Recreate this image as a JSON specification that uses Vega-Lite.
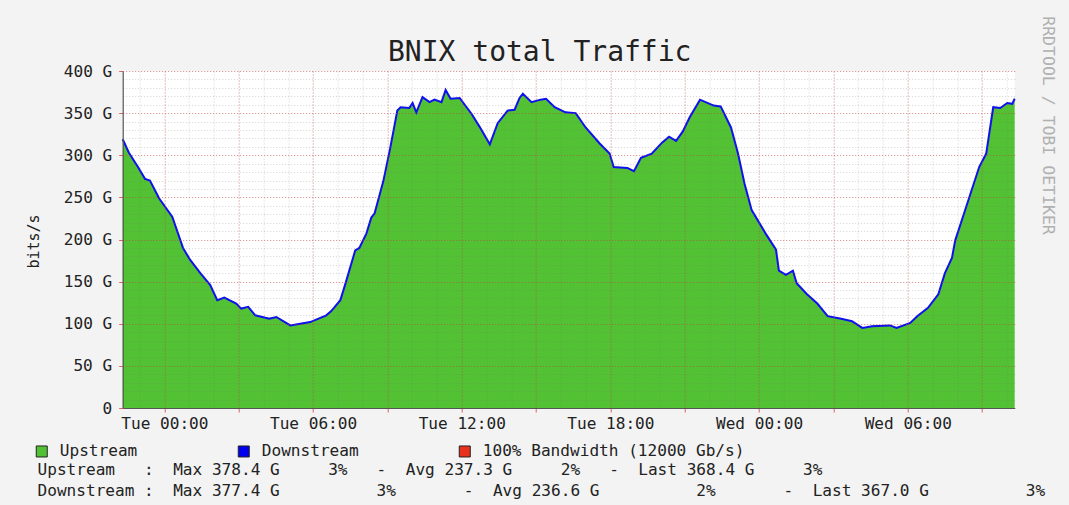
{
  "$schema": "https://vega.github.io/schema/vega-lite/v6.json",
  "width": 892,
  "height": 337,
  "autosize": {"type": "none"},
  "padding": {"left": 122.7, "top": 71, "right": 54.3, "bottom": 97},
  "background": "#f3f3f3",
  "config": {"view": {"fill": "white", "stroke": null}},
  "title": {"text": "BNIX total Traffic", "font": "DejaVu Sans Mono", "fontSize": 28, "fontWeight": "normal", "color": "#222222", "anchor": "middle", "frame": "group", "dx": -29, "dy": 84, "offset": 11, "baseline": "alphabetic"},
  "data": {"values": [
    {"t": "2024-01-01T22:19:00", "Upstream": 320, "Downstream": 319},
    {"t": "2024-01-01T22:34:00", "Upstream": 304, "Downstream": 303},
    {"t": "2024-01-01T22:56:00", "Upstream": 286, "Downstream": 286},
    {"t": "2024-01-01T23:13:00", "Upstream": 273, "Downstream": 272},
    {"t": "2024-01-01T23:25:00", "Upstream": 270, "Downstream": 270},
    {"t": "2024-01-01T23:47:00", "Upstream": 250, "Downstream": 249},
    {"t": "2024-01-02T00:19:00", "Upstream": 227, "Downstream": 227},
    {"t": "2024-01-02T00:45:00", "Upstream": 191, "Downstream": 190},
    {"t": "2024-01-02T01:02:00", "Upstream": 176, "Downstream": 176},
    {"t": "2024-01-02T01:27:00", "Upstream": 161, "Downstream": 160},
    {"t": "2024-01-02T01:51:00", "Upstream": 146, "Downstream": 146},
    {"t": "2024-01-02T02:08:00", "Upstream": 128, "Downstream": 128},
    {"t": "2024-01-02T02:25:00", "Upstream": 132, "Downstream": 131},
    {"t": "2024-01-02T02:54:00", "Upstream": 124, "Downstream": 124},
    {"t": "2024-01-02T03:06:00", "Upstream": 119, "Downstream": 118},
    {"t": "2024-01-02T03:23:00", "Upstream": 120, "Downstream": 120},
    {"t": "2024-01-02T03:40:00", "Upstream": 110, "Downstream": 110},
    {"t": "2024-01-02T04:14:00", "Upstream": 107, "Downstream": 106},
    {"t": "2024-01-02T04:31:00", "Upstream": 108, "Downstream": 108},
    {"t": "2024-01-02T05:05:00", "Upstream": 98, "Downstream": 98},
    {"t": "2024-01-02T05:29:00", "Upstream": 101, "Downstream": 100},
    {"t": "2024-01-02T05:53:00", "Upstream": 102, "Downstream": 102},
    {"t": "2024-01-02T06:32:00", "Upstream": 110, "Downstream": 110},
    {"t": "2024-01-02T06:44:00", "Upstream": 116, "Downstream": 115},
    {"t": "2024-01-02T07:06:00", "Upstream": 128, "Downstream": 128},
    {"t": "2024-01-02T07:18:00", "Upstream": 148, "Downstream": 147},
    {"t": "2024-01-02T07:42:00", "Upstream": 187, "Downstream": 187},
    {"t": "2024-01-02T07:52:00", "Upstream": 191, "Downstream": 190},
    {"t": "2024-01-02T08:09:00", "Upstream": 207, "Downstream": 207},
    {"t": "2024-01-02T08:21:00", "Upstream": 227, "Downstream": 226},
    {"t": "2024-01-02T08:29:00", "Upstream": 231, "Downstream": 231},
    {"t": "2024-01-02T08:50:00", "Upstream": 270, "Downstream": 269},
    {"t": "2024-01-02T09:07:00", "Upstream": 310, "Downstream": 309},
    {"t": "2024-01-02T09:24:00", "Upstream": 354, "Downstream": 353},
    {"t": "2024-01-02T09:32:00", "Upstream": 357, "Downstream": 357},
    {"t": "2024-01-02T09:53:00", "Upstream": 357, "Downstream": 356},
    {"t": "2024-01-02T10:01:00", "Upstream": 362, "Downstream": 362},
    {"t": "2024-01-02T10:10:00", "Upstream": 352, "Downstream": 351},
    {"t": "2024-01-02T10:25:00", "Upstream": 369, "Downstream": 369},
    {"t": "2024-01-02T10:42:00", "Upstream": 364, "Downstream": 363},
    {"t": "2024-01-02T10:54:00", "Upstream": 366, "Downstream": 366},
    {"t": "2024-01-02T11:11:00", "Upstream": 364, "Downstream": 363},
    {"t": "2024-01-02T11:21:00", "Upstream": 378.4, "Downstream": 377.4},
    {"t": "2024-01-02T11:33:00", "Upstream": 368, "Downstream": 367},
    {"t": "2024-01-02T11:55:00", "Upstream": 368, "Downstream": 368},
    {"t": "2024-01-02T12:24:00", "Upstream": 350, "Downstream": 349},
    {"t": "2024-01-02T12:43:00", "Upstream": 334, "Downstream": 334},
    {"t": "2024-01-02T13:08:00", "Upstream": 314, "Downstream": 313},
    {"t": "2024-01-02T13:27:00", "Upstream": 338, "Downstream": 338},
    {"t": "2024-01-02T13:51:00", "Upstream": 354, "Downstream": 353},
    {"t": "2024-01-02T14:08:00", "Upstream": 354, "Downstream": 354},
    {"t": "2024-01-02T14:20:00", "Upstream": 369, "Downstream": 368},
    {"t": "2024-01-02T14:28:00", "Upstream": 373, "Downstream": 373},
    {"t": "2024-01-02T14:49:00", "Upstream": 364, "Downstream": 363},
    {"t": "2024-01-02T15:11:00", "Upstream": 366, "Downstream": 366},
    {"t": "2024-01-02T15:24:00", "Upstream": 368, "Downstream": 367},
    {"t": "2024-01-02T15:45:00", "Upstream": 357, "Downstream": 357},
    {"t": "2024-01-02T16:11:00", "Upstream": 352, "Downstream": 351},
    {"t": "2024-01-02T16:36:00", "Upstream": 350, "Downstream": 350},
    {"t": "2024-01-02T17:00:00", "Upstream": 334, "Downstream": 333},
    {"t": "2024-01-02T17:34:00", "Upstream": 314, "Downstream": 314},
    {"t": "2024-01-02T17:58:00", "Upstream": 303, "Downstream": 302},
    {"t": "2024-01-02T18:08:00", "Upstream": 286, "Downstream": 286},
    {"t": "2024-01-02T18:41:00", "Upstream": 286, "Downstream": 285},
    {"t": "2024-01-02T18:57:00", "Upstream": 281, "Downstream": 281},
    {"t": "2024-01-02T19:14:00", "Upstream": 298, "Downstream": 297},
    {"t": "2024-01-02T19:40:00", "Upstream": 302, "Downstream": 302},
    {"t": "2024-01-02T20:05:00", "Upstream": 316, "Downstream": 315},
    {"t": "2024-01-02T20:22:00", "Upstream": 322, "Downstream": 322},
    {"t": "2024-01-02T20:39:00", "Upstream": 318, "Downstream": 317},
    {"t": "2024-01-02T20:55:00", "Upstream": 328, "Downstream": 328},
    {"t": "2024-01-02T21:12:00", "Upstream": 346, "Downstream": 345},
    {"t": "2024-01-02T21:37:00", "Upstream": 366, "Downstream": 366},
    {"t": "2024-01-02T22:10:00", "Upstream": 360, "Downstream": 359},
    {"t": "2024-01-02T22:27:00", "Upstream": 358, "Downstream": 358},
    {"t": "2024-01-02T22:52:00", "Upstream": 334, "Downstream": 333},
    {"t": "2024-01-02T23:09:00", "Upstream": 302, "Downstream": 302},
    {"t": "2024-01-02T23:25:00", "Upstream": 267, "Downstream": 266},
    {"t": "2024-01-02T23:42:00", "Upstream": 235, "Downstream": 235},
    {"t": "2024-01-03T00:16:00", "Upstream": 208, "Downstream": 207},
    {"t": "2024-01-03T00:41:00", "Upstream": 188, "Downstream": 188},
    {"t": "2024-01-03T00:48:00", "Upstream": 164, "Downstream": 163},
    {"t": "2024-01-03T01:05:00", "Upstream": 158, "Downstream": 158},
    {"t": "2024-01-03T01:22:00", "Upstream": 164, "Downstream": 163},
    {"t": "2024-01-03T01:31:00", "Upstream": 148, "Downstream": 148},
    {"t": "2024-01-03T01:56:00", "Upstream": 136, "Downstream": 135},
    {"t": "2024-01-03T02:21:00", "Upstream": 124, "Downstream": 124},
    {"t": "2024-01-03T02:46:00", "Upstream": 110, "Downstream": 109},
    {"t": "2024-01-03T03:19:00", "Upstream": 106, "Downstream": 106},
    {"t": "2024-01-03T03:45:00", "Upstream": 104, "Downstream": 103},
    {"t": "2024-01-03T04:10:00", "Upstream": 95, "Downstream": 95},
    {"t": "2024-01-03T04:34:00", "Upstream": 98, "Downstream": 97},
    {"t": "2024-01-03T05:17:00", "Upstream": 98, "Downstream": 98},
    {"t": "2024-01-03T05:33:00", "Upstream": 96, "Downstream": 95},
    {"t": "2024-01-03T06:06:00", "Upstream": 101, "Downstream": 101},
    {"t": "2024-01-03T06:23:00", "Upstream": 110, "Downstream": 109},
    {"t": "2024-01-03T06:49:00", "Upstream": 119, "Downstream": 119},
    {"t": "2024-01-03T07:14:00", "Upstream": 136, "Downstream": 135},
    {"t": "2024-01-03T07:30:00", "Upstream": 160, "Downstream": 160},
    {"t": "2024-01-03T07:47:00", "Upstream": 179, "Downstream": 178},
    {"t": "2024-01-03T07:55:00", "Upstream": 199, "Downstream": 199},
    {"t": "2024-01-03T08:21:00", "Upstream": 239, "Downstream": 238},
    {"t": "2024-01-03T08:53:00", "Upstream": 286, "Downstream": 286},
    {"t": "2024-01-03T09:10:00", "Upstream": 303, "Downstream": 302},
    {"t": "2024-01-03T09:27:00", "Upstream": 357, "Downstream": 357},
    {"t": "2024-01-03T09:44:00", "Upstream": 357, "Downstream": 356},
    {"t": "2024-01-03T10:01:00", "Upstream": 362, "Downstream": 362},
    {"t": "2024-01-03T10:13:00", "Upstream": 362, "Downstream": 361},
    {"t": "2024-01-03T10:19:00", "Upstream": 368.4, "Downstream": 367.0}
  ]},
  "transform": [{"fold": ["Upstream", "Downstream"], "as": ["series", "value"]}],
  "resolve": {"axis": {"x": "independent", "y": "independent"}},
  "layer": [
    {
      "transform": [{"filter": "datum.series == 'Upstream'"}],
      "mark": {"type": "area", "interpolate": "linear", "opacity": 1},
      "encoding": {
        "x": {"field": "t", "type": "temporal",
          "scale": {"domain": [{"year": 2024, "month": 1, "date": 1, "hours": 22, "minutes": 19}, {"year": 2024, "month": 1, "date": 3, "hours": 10, "minutes": 19}], "nice": false},
          "axis": {"orient": "top", "values": [
            {"year": 2024, "month": 1, "date": 1, "hours": 23},
            {"year": 2024, "month": 1, "date": 2, "hours": 0}, {"year": 2024, "month": 1, "date": 2, "hours": 1}, {"year": 2024, "month": 1, "date": 2, "hours": 2}, {"year": 2024, "month": 1, "date": 2, "hours": 3}, {"year": 2024, "month": 1, "date": 2, "hours": 4}, {"year": 2024, "month": 1, "date": 2, "hours": 5}, {"year": 2024, "month": 1, "date": 2, "hours": 6}, {"year": 2024, "month": 1, "date": 2, "hours": 7}, {"year": 2024, "month": 1, "date": 2, "hours": 8}, {"year": 2024, "month": 1, "date": 2, "hours": 9}, {"year": 2024, "month": 1, "date": 2, "hours": 10}, {"year": 2024, "month": 1, "date": 2, "hours": 11},
            {"year": 2024, "month": 1, "date": 2, "hours": 12}, {"year": 2024, "month": 1, "date": 2, "hours": 13}, {"year": 2024, "month": 1, "date": 2, "hours": 14}, {"year": 2024, "month": 1, "date": 2, "hours": 15}, {"year": 2024, "month": 1, "date": 2, "hours": 16}, {"year": 2024, "month": 1, "date": 2, "hours": 17}, {"year": 2024, "month": 1, "date": 2, "hours": 18}, {"year": 2024, "month": 1, "date": 2, "hours": 19}, {"year": 2024, "month": 1, "date": 2, "hours": 20}, {"year": 2024, "month": 1, "date": 2, "hours": 21}, {"year": 2024, "month": 1, "date": 2, "hours": 22}, {"year": 2024, "month": 1, "date": 2, "hours": 23},
            {"year": 2024, "month": 1, "date": 3, "hours": 0}, {"year": 2024, "month": 1, "date": 3, "hours": 1}, {"year": 2024, "month": 1, "date": 3, "hours": 2}, {"year": 2024, "month": 1, "date": 3, "hours": 3}, {"year": 2024, "month": 1, "date": 3, "hours": 4}, {"year": 2024, "month": 1, "date": 3, "hours": 5}, {"year": 2024, "month": 1, "date": 3, "hours": 6}, {"year": 2024, "month": 1, "date": 3, "hours": 7}, {"year": 2024, "month": 1, "date": 3, "hours": 8}, {"year": 2024, "month": 1, "date": 3, "hours": 9}, {"year": 2024, "month": 1, "date": 3, "hours": 10}],
            "grid": true, "gridColor": "#707070", "gridOpacity": 0.3, "gridDash": [1, 2], "gridWidth": 1, "labels": false, "ticks": false, "domain": false, "title": null, "zindex": 1}},
        "y": {"field": "value", "type": "quantitative",
          "scale": {"domain": [0, 400], "nice": false},
          "axis": {"orient": "right", "values": [0,10,20,30,40,50,60,70,80,90,100,110,120,130,140,150,160,170,180,190,200,210,220,230,240,250,260,270,280,290,300,310,320,330,340,350,360,370,380,390,400], "grid": true, "gridColor": "#707070", "gridOpacity": 0.3, "gridDash": [1, 2], "gridWidth": 1, "labels": false, "ticks": false, "domain": false, "zindex": 1,
            "title": "RRDTOOL / TOBI OETIKER", "titleFont": "DejaVu Sans Mono", "titleFontSize": 16.5, "titleFontWeight": "normal", "titleColor": "#b0b0b0", "titleAngle": 90, "titleX": 32.5, "titleY": 54, "titleAlign": "center", "titleBaseline": "middle"}},
        "color": {"field": "series", "type": "nominal",
          "scale": {"domain": ["Upstream", "Downstream", "100% Bandwidth (12000 Gb/s)"], "range": ["#52c234", "#0000ee", "#e8321e"]},
          "legend": {"orient": "none", "legendX": -89, "legendY": 372, "direction": "horizontal", "title": null, "symbolType": "square", "symbolSize": 121, "symbolOpacity": 1, "symbolStrokeColor": "#222222", "symbolStrokeWidth": 1, "labelFont": "DejaVu Sans Mono", "labelFontSize": 16.1, "labelColor": "#222222", "labelOffset": 10, "labelLimit": 500, "columnPadding": 98, "padding": 0}}
      }
    },
    {
      "transform": [{"filter": "datum.series == 'Downstream'"}],
      "mark": {"type": "line", "interpolate": "linear", "strokeWidth": 2, "color": "#1010ee"},
      "encoding": {
        "x": {"field": "t", "type": "temporal",
          "scale": {"domain": [{"year": 2024, "month": 1, "date": 1, "hours": 22, "minutes": 19}, {"year": 2024, "month": 1, "date": 3, "hours": 10, "minutes": 19}], "nice": false},
          "axis": {"orient": "bottom", "values": [
            {"year": 2024, "month": 1, "date": 2, "hours": 0}, {"year": 2024, "month": 1, "date": 2, "hours": 3}, {"year": 2024, "month": 1, "date": 2, "hours": 6}, {"year": 2024, "month": 1, "date": 2, "hours": 9}, {"year": 2024, "month": 1, "date": 2, "hours": 12}, {"year": 2024, "month": 1, "date": 2, "hours": 15}, {"year": 2024, "month": 1, "date": 2, "hours": 18}, {"year": 2024, "month": 1, "date": 2, "hours": 21},
            {"year": 2024, "month": 1, "date": 3, "hours": 0}, {"year": 2024, "month": 1, "date": 3, "hours": 3}, {"year": 2024, "month": 1, "date": 3, "hours": 6}, {"year": 2024, "month": 1, "date": 3, "hours": 9}],
            "grid": true, "gridColor": "#e03030", "gridOpacity": 0.45, "gridDash": [1, 2], "gridWidth": 1,
            "labelExpr": "hours(datum.value) % 6 == 0 ? timeFormat(datum.value, '%a %H:%M') : ''", "labelFont": "DejaVu Sans Mono", "labelFontSize": 16.1, "labelColor": "#222222", "labelBaseline": "top", "labelPadding": 3, "labelFlush": false, "labelOverlap": false,
            "ticks": true, "tickSize": 4, "tickColor": "#e06060", "domain": true, "domainColor": "#555555", "domainWidth": 1.2, "zindex": 1,
            "title": ["Upstream\u00a0\u00a0\u00a0:\u00a0\u00a0Max 378.4 G\u00a0\u00a0\u00a0\u00a0\u00a03%\u00a0\u00a0\u00a0-\u00a0\u00a0Avg 237.3 G\u00a0\u00a0\u00a0\u00a0\u00a02%\u00a0\u00a0\u00a0-\u00a0\u00a0Last 368.4 G\u00a0\u00a0\u00a0\u00a0\u00a03%", "Downstream :\u00a0\u00a0Max 377.4 G\u00a0\u00a0\u00a0\u00a0\u00a0\u00a0\u00a0\u00a0\u00a0\u00a03%\u00a0\u00a0\u00a0\u00a0\u00a0\u00a0\u00a0-\u00a0\u00a0Avg 236.6 G\u00a0\u00a0\u00a0\u00a0\u00a0\u00a0\u00a0\u00a0\u00a0\u00a02%\u00a0\u00a0\u00a0\u00a0\u00a0\u00a0\u00a0-\u00a0\u00a0Last 367.0 G\u00a0\u00a0\u00a0\u00a0\u00a0\u00a0\u00a0\u00a0\u00a0\u00a03%"],
            "titleFont": "DejaVu Sans Mono", "titleFontSize": 16.1, "titleFontWeight": "normal", "titleColor": "#222222", "titleAlign": "left", "titleAnchor": "start", "titleX": -85.7, "titleY": 66, "titleBaseline": "alphabetic", "titleLineHeight": 21, "titleAngle": 0}},
        "y": {"field": "value", "type": "quantitative",
          "scale": {"domain": [0, 400], "nice": false},
          "axis": {"orient": "left", "values": [0, 50, 100, 150, 200, 250, 300, 350, 400], "grid": true, "gridColor": "#e03030", "gridOpacity": 0.45, "gridDash": [1, 2], "gridWidth": 1,
            "labelExpr": "datum.value == 0 ? '0' : datum.value + ' G'", "labelFont": "DejaVu Sans Mono", "labelFontSize": 16.1, "labelColor": "#222222", "labelPadding": 7, "labelBaseline": "middle",
            "ticks": true, "tickSize": 4, "tickColor": "#e06060", "domain": true, "domainColor": "#555555", "domainWidth": 1.2, "zindex": 1,
            "title": "bits/s", "titleFont": "DejaVu Sans Mono", "titleFontSize": 15, "titleFontWeight": "normal", "titleColor": "#222222", "titleAngle": 270, "titleX": -89, "titleY": 170, "titleAlign": "center", "titleBaseline": "middle"}}
      }
    }
  ]
}
